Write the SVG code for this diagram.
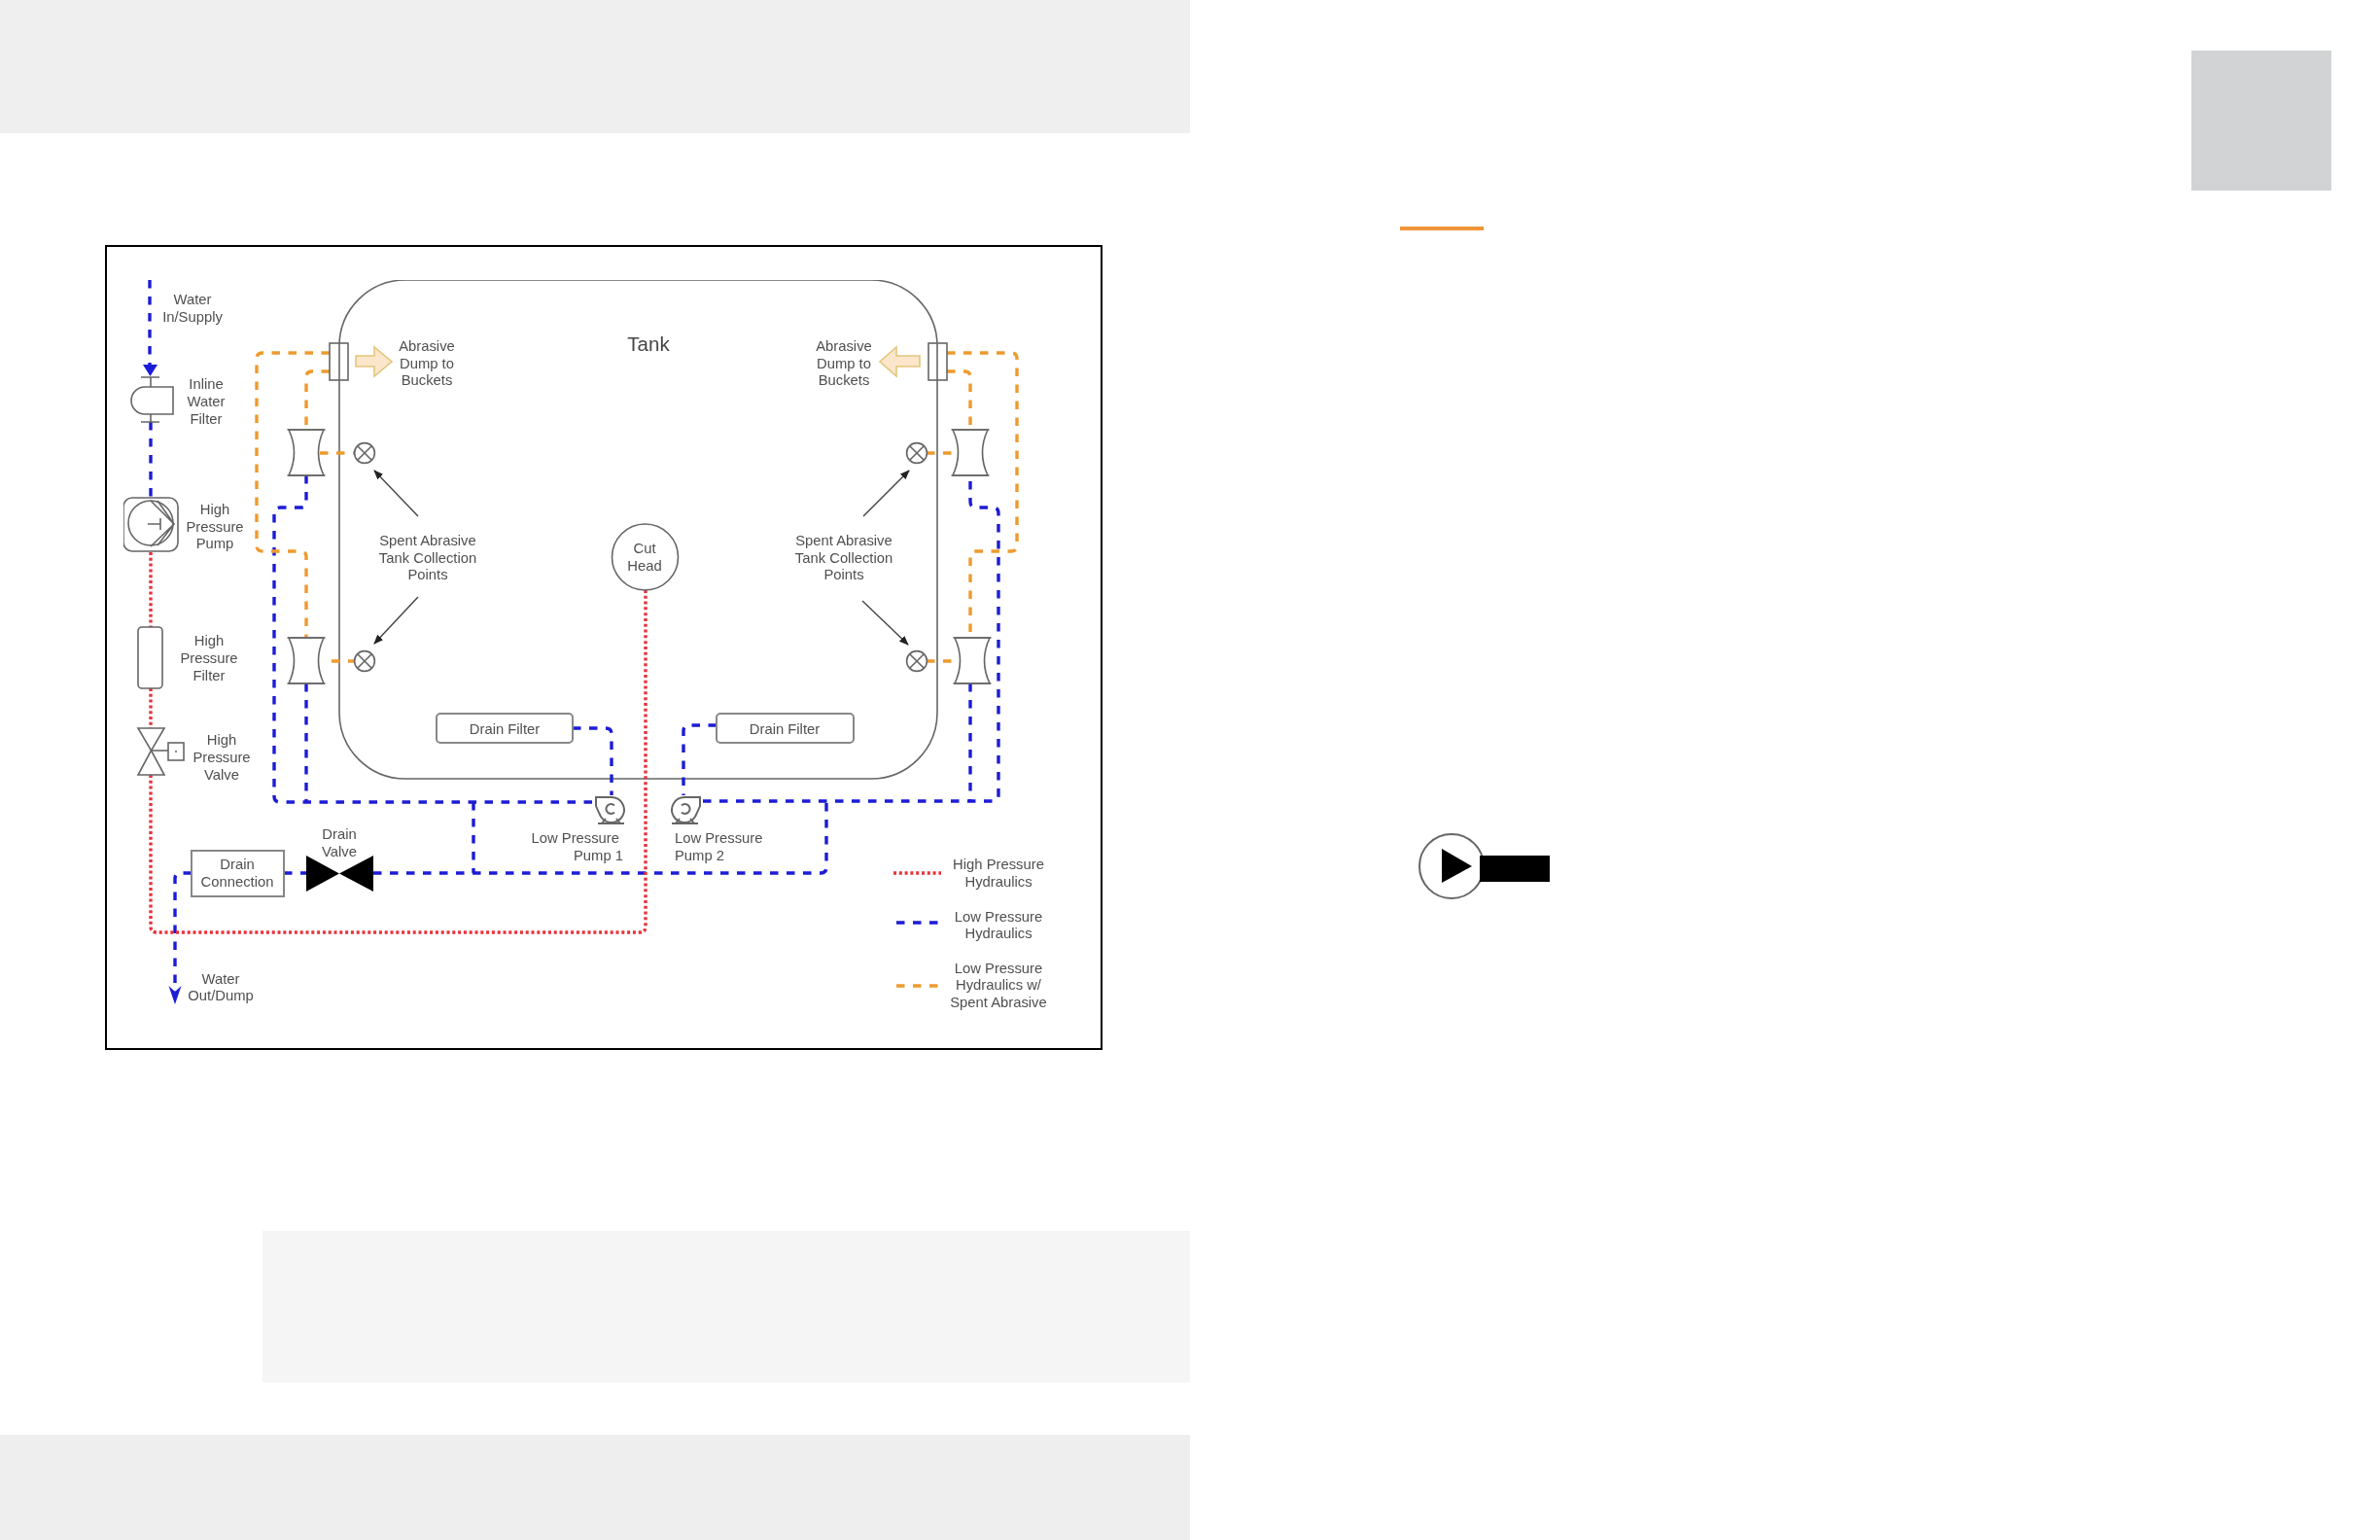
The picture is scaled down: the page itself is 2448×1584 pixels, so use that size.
<svg xmlns="http://www.w3.org/2000/svg" width="2448" height="1584" viewBox="0 0 2448 1584">
<style>
text{font-family:"Liberation Sans",Arial,sans-serif;font-size:14.8px;fill:#505050;text-anchor:middle}
.s{fill:#fff;stroke:#666;stroke-width:1.6}
.n{fill:none;stroke:#666;stroke-width:1.6}
.p{fill:none;stroke-width:3.4;stroke-linejoin:round}
.blue{stroke:#1a1ad6;stroke-dasharray:8.500 8.500}
.orange{stroke:#ee9a2e;stroke-dasharray:8.500 8.500}
.red{stroke:#e8303a;stroke-dasharray:3 2.800}
.lead{fill:none;stroke:#444;stroke-width:1.4;marker-end:url(#ah)}
.dump{fill:#fbe6cb;stroke:#e3c67c;stroke-width:1.6}
</style>
<defs>
<filter id="soft" x="0" y="0" width="100%" height="100%"><feGaussianBlur stdDeviation="0.6"/></filter>
<marker id="ah" markerWidth="10" markerHeight="8" refX="9" refY="4" orient="auto" markerUnits="userSpaceOnUse"><path d="M0 0L10 4L0 8z" fill="#222"/></marker>
<g id="venturi"><path class="s" d="M-18 -23.500Q-7 0 -18 23.500H18Q7 0 18 -23.500Z"/><path class="n" d="M-19.500 -23.500H19.500M-19.500 23.500H19.500"/></g>
<g id="xpoint"><circle class="s" r="10.400"/><path class="n" d="M-7.300 -7.300L7.300 7.300M-7.300 7.300L7.300 -7.300"/></g>
<g id="lpump"><path class="s" style="stroke-width:2" d="M-15 -12H1A13 13 0 1 1 -10 8Q-13 2 -15 -3Z"/><path class="n" style="stroke-width:2" d="M4 -3.500A5 5 0 1 0 4 3.500M-13 15H14M-9 15L-5 10M10 15L6 10"/></g>
</defs>

<g id="page-bands">
<rect x="0" y="0" width="1224" height="137" fill="#efefef"/>
<rect x="270" y="1266" width="954" height="156" fill="#f5f5f5"/>
<rect x="0" y="1476" width="1224" height="108" fill="#eeeeee"/>
<rect x="2254" y="52" width="144" height="144" fill="#d1d3d4"/>
<rect x="1440" y="233" width="86" height="4" fill="#f0953a"/>
</g>
<g id="play-button">
<circle cx="1493" cy="891" r="33" fill="#fff" stroke="#666" stroke-width="2"/>
<path d="M1483 873L1514 891L1483 908Z" fill="#000"/>
<rect x="1522" y="880" width="72" height="27" fill="#000"/>
</g>

<rect id="frame" x="109" y="253" width="1024" height="826" fill="#fff" stroke="#000" stroke-width="2"/>

<g id="figure" filter="url(#soft)">
<g id="tank">
<rect x="349" y="288" width="615" height="513" rx="68" ry="68" fill="none" stroke="#666" stroke-width="1.600"/>
<text x="667" y="361" style="font-size:20.500px;fill:#444">Tank</text>
</g>

<g id="connectors">
<path class="p blue" d="M154 288V378"/>
<path class="p blue" d="M155 434V512"/>
<path class="p blue" d="M315 489V516Q315 522 309 522H288Q282 522 282 528V819Q282 825 288 825H613"/>
<path class="p blue" d="M315 703V825"/>
<path class="p blue" d="M589 749H623Q629 749 629 755V818"/>
<path class="p blue" d="M737 746H709Q703 746 703 752V818"/>
<path class="p blue" d="M723 824H1021Q1027 824 1027 818V528Q1027 522 1021 522H1004Q998 522 998 516V489"/>
<path class="p blue" d="M998 703V824"/>
<path class="p blue" d="M487 825V898"/>
<path class="p blue" d="M384 898H844Q850 898 850 892V824"/>
<path class="p blue" d="M292 898H315"/>
<path class="p blue" d="M197 898H186Q180 898 180 904V1022"/>
<path class="p orange" d="M339 363H270Q264 363 264 369V561Q264 567 270 567H309Q315 567 315 573V656"/>
<path class="p orange" d="M339 382H321Q315 382 315 388V442"/>
<path class="p orange" d="M329 466H365"/>
<path class="p orange" d="M341 680H365"/>
<path class="p orange" d="M974 363H1040Q1046 363 1046 369V561Q1046 567 1040 567H1004Q998 567 998 573V656"/>
<path class="p orange" d="M974 382H992Q998 382 998 388V442"/>
<path class="p orange" d="M953 466H980"/>
<path class="p orange" d="M953 680H981"/>
<path class="p red" d="M155 568V645"/>
<path class="p red" d="M155 708V749"/>
<path class="p red" d="M155 797V953Q155 959 161 959H658Q664 959 664 953V607"/>
<path d="M147 375H162L154.500 387Z" fill="#1a1ad6"/>
<path d="M173.500 1014L180 1033L186.500 1014L180 1020Z" fill="#1a1ad6"/>
<path class="lead" d="M430 531L385 484"/>
<path class="lead" d="M430 614L385 662"/>
<path class="lead" d="M888 531L935 484"/>
<path class="lead" d="M887 618L934 663"/>
</g>

<g id="water-supply"><text><tspan x="198" y="313">Water</tspan><tspan x="198" y="331">In/Supply</tspan></text></g>
<g id="inline-filter">
<path class="n" d="M145 388H164M145 434H164M155 388V398M155 426V434"/>
<path class="s" d="M178 398V426H149A14 14 0 0 1 149 398Z"/>
<text><tspan x="212" y="400">Inline</tspan><tspan x="212" y="418">Water</tspan><tspan x="212" y="436">Filter</tspan></text>
</g>
<g id="hp-pump">
<rect class="s" x="127" y="512" width="56" height="55" rx="9"/>
<circle class="n" cx="155" cy="538" r="23"/>
<path class="n" d="M155 515L179 539L155 562M162 515L179 539L162 561M152 539H165M165 533V545"/>
<text><tspan x="221" y="529">High</tspan><tspan x="221" y="547">Pressure</tspan><tspan x="221" y="564">Pump</tspan></text>
</g>
<g id="hp-filter">
<rect class="s" x="142" y="645" width="25" height="63" rx="4"/>
<text><tspan x="215" y="664">High</tspan><tspan x="215" y="682">Pressure</tspan><tspan x="215" y="700">Filter</tspan></text>
</g>
<g id="hp-valve">
<path class="s" d="M142 749H169L155.500 772L169 797H142L155.500 772Z"/>
<path class="n" d="M155 772H173"/>
<rect class="s" x="173" y="764" width="16" height="18"/>
<circle cx="181" cy="773" r="1" fill="#666"/>
<text><tspan x="228" y="766">High</tspan><tspan x="228" y="784">Pressure</tspan><tspan x="228" y="802">Valve</tspan></text>
</g>

<g id="dump-left">
<rect class="s" x="339" y="353" width="19" height="38"/>
<path class="n" d="M349 353V391"/>
<path class="dump" d="M366 366H385V357L403 372L385 387V377H366Z"/>
<text><tspan x="439" y="361">Abrasive</tspan><tspan x="439" y="379">Dump to</tspan><tspan x="439" y="396">Buckets</tspan></text>
</g>
<g id="dump-right">
<rect class="s" x="955" y="353" width="19" height="38"/>
<path class="n" d="M964 353V391"/>
<path class="dump" d="M946 366H922V357L905 372L922 387V377H946Z"/>
<text><tspan x="868" y="361">Abrasive</tspan><tspan x="868" y="379">Dump to</tspan><tspan x="868" y="396">Buckets</tspan></text>
</g>

<g id="venturi-ul"><use href="#venturi" x="315" y="465.500"/></g>
<g id="venturi-ll"><use href="#venturi" x="315" y="679.500"/></g>
<g id="venturi-ur"><use href="#venturi" x="998" y="465.500"/></g>
<g id="venturi-lr"><use href="#venturi" x="1000" y="679.500"/></g>
<g id="point-ul"><use href="#xpoint" x="375" y="466"/></g>
<g id="point-ll"><use href="#xpoint" x="375" y="680"/></g>
<g id="point-ur"><use href="#xpoint" x="943" y="466"/></g>
<g id="point-lr"><use href="#xpoint" x="943" y="680"/></g>

<g id="spent-left"><text><tspan x="440" y="561">Spent Abrasive</tspan><tspan x="440" y="579">Tank Collection</tspan><tspan x="440" y="596">Points</tspan></text></g>
<g id="spent-right"><text><tspan x="868" y="561">Spent Abrasive</tspan><tspan x="868" y="579">Tank Collection</tspan><tspan x="868" y="596">Points</tspan></text></g>

<g id="cut-head">
<circle class="s" cx="663.500" cy="573" r="34"/>
<text><tspan x="663" y="569">Cut</tspan><tspan x="663" y="587">Head</tspan></text>
</g>

<g id="drain-filter-1">
<rect class="s" x="449" y="734" width="140" height="30" rx="4" style="stroke:#888;stroke-width:2"/>
<text x="519" y="755">Drain Filter</text>
</g>
<g id="drain-filter-2">
<rect class="s" x="737" y="734" width="141" height="30" rx="4" style="stroke:#888;stroke-width:2"/>
<text x="807" y="755">Drain Filter</text>
</g>

<g id="lp-pump-1">
<use href="#lpump" x="628" y="832"/>
<text style="text-anchor:end"><tspan x="637" y="867">Low Pressure</tspan><tspan x="641" y="885">Pump 1</tspan></text>
</g>
<g id="lp-pump-2">
<use href="#lpump" transform="translate(705 832) scale(-1 1)"/>
<text style="text-anchor:start"><tspan x="694" y="867">Low Pressure</tspan><tspan x="694" y="885">Pump 2</tspan></text>
</g>

<g id="drain-valve">
<path d="M315 880L349 898.500L384 880V917L349 898.500L315 917Z" fill="#000"/>
<text><tspan x="349" y="863">Drain</tspan><tspan x="349" y="881">Valve</tspan></text>
</g>
<g id="drain-connection">
<rect class="s" x="197" y="875" width="95" height="47" style="stroke-width:2;stroke:#888"/>
<text><tspan x="244" y="894">Drain</tspan><tspan x="244" y="912">Connection</tspan></text>
</g>
<g id="water-out"><text><tspan x="227" y="1012">Water</tspan><tspan x="227" y="1029">Out/Dump</tspan></text></g>

<g id="legend">
<path class="p red" d="M919 898H968"/>
<path class="p blue" d="M922 949H965"/>
<path class="p orange" d="M922 1014H965"/>
<text><tspan x="1027" y="894">High Pressure</tspan><tspan x="1027" y="912">Hydraulics</tspan></text>
<text><tspan x="1027" y="948">Low Pressure</tspan><tspan x="1027" y="965">Hydraulics</tspan></text>
<text><tspan x="1027" y="1001">Low Pressure</tspan><tspan x="1027" y="1018">Hydraulics w/</tspan><tspan x="1027" y="1036">Spent Abrasive</tspan></text>
</g>
</g>
</svg>
